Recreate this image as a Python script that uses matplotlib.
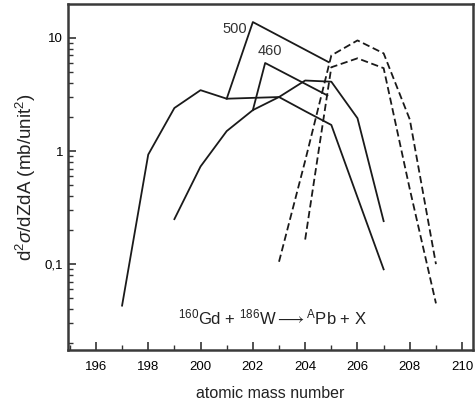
import numpy as np
import matplotlib.pyplot as plt
from matplotlib.ticker import FixedLocator, FixedFormatter, LogLocator, NullFormatter, MultipleLocator

plt.rcParams['font.family'] = ['Liberation Sans', 'DejaVu Sans']
plt.rcParams['mathtext.fontset'] = 'custom'
plt.rcParams['mathtext.rm'] = 'Liberation Sans'
plt.rcParams['mathtext.it'] = 'Liberation Sans:italic'

# solid curves (two data sets)
a_solid1 = [197, 198, 199, 200, 201, 202, 203, 204, 205, 206, 207]
y_solid1 = [0.043, 0.93, 2.4, 3.45, 2.9, 2.95, 3.0, 2.25, 1.7, 0.39, 0.09]
a_solid2 = [199, 200, 201, 202, 203, 204, 205, 206, 207]
y_solid2 = [0.25, 0.73, 1.5, 2.3, 3.0, 4.2, 4.1, 1.95, 0.24]

# dashed curves (calculations)
a_dash500 = [203, 204, 205, 206, 207, 208, 209]
y_dash500 = [0.105, 0.82, 7.0, 9.5, 7.3, 1.9, 0.1]
a_dash460 = [204, 205, 206, 207, 208, 209]
y_dash460 = [0.165, 5.5, 6.6, 5.4, 0.46, 0.045]

# pointer lines from the energy labels
a_ptr500 = [201, 202.0, 204.9]
y_ptr500 = [2.9, 13.8, 6.1]
a_ptr460 = [202, 202.47, 204.85]
y_ptr460 = [2.3, 6.0, 3.1]

col = '#1a1a1a'
fig = plt.figure(figsize=(4.75, 4.08), dpi=100)
ax = fig.add_axes([0.143, 0.142, 0.853, 0.848])

ax.plot(a_solid1, y_solid1, color=col, lw=1.3)
ax.plot(a_solid2, y_solid2, color=col, lw=1.3)
ax.plot(a_dash500, y_dash500, color=col, lw=1.3, ls=(0, (4, 2)))
ax.plot(a_dash460, y_dash460, color=col, lw=1.3, ls=(0, (4, 2)))
ax.plot(a_ptr500, y_ptr500, color=col, lw=1.3)
ax.plot(a_ptr460, y_ptr460, color=col, lw=1.3)

ax.text(201.3, 12.0, '500', fontsize=10.5, color='#333333', ha='center', va='center')
ax.text(202.65, 7.6, '460', fontsize=10.5, color='#333333', ha='center', va='center')
ax.text(202.75, 0.034, r'$^{160}$Gd + $^{186}$W$\longrightarrow$$^{\mathrm{A}}$Pb + X',
        fontsize=12, ha='center', va='center', color='#222222')

ax.set_yscale('log')
ax.set_xlim(194.93, 210.42)
ax.set_ylim(0.0174, 19.9)

ax.xaxis.set_major_locator(MultipleLocator(2))
ax.xaxis.set_minor_locator(MultipleLocator(1))
ax.yaxis.set_major_locator(FixedLocator([0.1, 1, 10]))
ax.yaxis.set_major_formatter(FixedFormatter(['0,1', '1', '10']))
ax.yaxis.set_minor_locator(LogLocator(base=10, subs=np.arange(2, 10)))
ax.yaxis.set_minor_formatter(NullFormatter())

ax.tick_params(which='both', direction='in', top=False, right=False, color='#333333', labelsize=9.5)
ax.tick_params(axis='x', pad=8)
ax.tick_params(which='major', length=6, width=1.2)
ax.tick_params(which='minor', length=3.5, width=1.0)
for s in ax.spines.values():
    s.set_linewidth(1.8)
    s.set_color('#3a3a3a')

ax.set_xlabel('atomic mass number', fontsize=11.5, color='#222222', labelpad=9)
ax.set_ylabel('d$^2$$\\sigma$/dZdA (mb/unit$^2$)', fontsize=13.5, color='#222222', labelpad=5)

fig.savefig('out.png', dpi=100)
